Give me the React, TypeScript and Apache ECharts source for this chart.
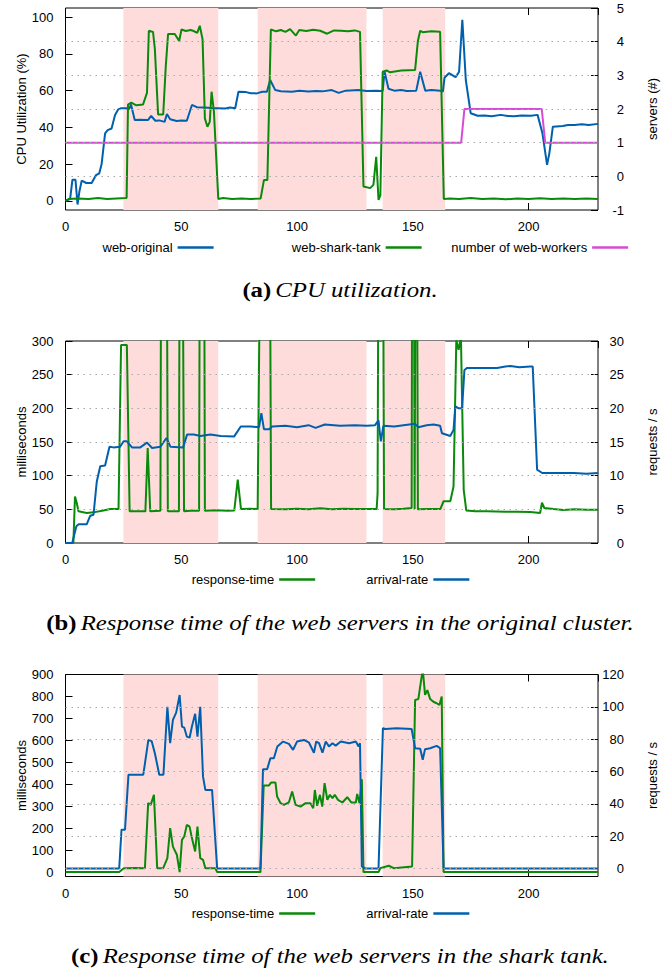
import React, { useEffect, useRef } from "react";
import * as echarts from "echarts";

// ---------- data ----------
const X_MAX = 230;
const xTickStep = 50;
const shadedRanges: number[][] = [[25, 66], [83, 130], [137, 164]];

const cpuLeftTicks = [0, 20, 40, 60, 80, 100];
const cpuGridValues = [0, 1, 2, 3, 4];
const rtOrigGridValues = [50, 100, 150, 200, 250];
const sharkLeftTicks = [0, 100, 200, 300, 400, 500, 600, 700, 800, 900];
const sharkRightTicks = [0, 20, 40, 60, 80, 100, 120];
const sharkGridValues = [0, 20, 40, 60, 80, 100];

// (a) CPU utilization
const cpuWebOriginal: number[][] = [
  [0, 0], [2, 1], [3, 11.5], [4.3, 11.5], [5.2, -2], [6, 5], [7, 11], [9, 9.7], [11.3, 9.7],
  [13.2, 14], [14.6, 15], [15.6, 20], [17.1, 36.7], [18.2, 38.5], [19.9, 39.4], [21.4, 46.7],
  [22.8, 49.8], [24, 50.4], [26.4, 50.4], [27.5, 50], [28.3, 52.5], [29.9, 44], [32, 44.2],
  [35.6, 44], [37, 46.3], [38.8, 43.6], [40.5, 43.8], [42.8, 43], [43.8, 47.3], [45.2, 44.4],
  [48, 43.5], [50, 43.8], [52.4, 43.6], [54.6, 52.2], [56.7, 51], [60, 50.8], [63, 50.5],
  [66, 50.4], [69, 50.3], [71, 50.8], [73.3, 50.4], [74.7, 59.4], [78, 59.2], [80, 58.6],
  [82.6, 58.5], [85, 59.4], [87, 59.4], [88.4, 65.8], [90.6, 60.3], [93, 59.7], [97.8, 59.4],
  [101, 60], [105, 59.5], [108, 59.8], [111, 59.6], [115, 60.3], [118, 58.8], [121, 60],
  [126.6, 60.3], [130, 59.8], [134, 59.9], [137, 59.8], [137.8, 70.5], [139.5, 61], [142, 60],
  [145, 60.3], [147.4, 59.8], [151.5, 60], [153.2, 70.3], [155.4, 60], [158, 60.3], [161.9, 60],
  [163, 59.5], [163.7, 67], [165.6, 69.5], [168.5, 67.3], [170, 70.3], [171.4, 98.6],
  [172.9, 65.8], [175, 47.7], [178, 46.3], [181, 46.5], [184, 46], [188, 46.8], [191, 46.2],
  [193.8, 46], [197, 46.5], [201, 46.3], [203.9, 46.8], [206, 36.8], [208, 19.6], [209, 26],
  [210.5, 40.4], [214.8, 40.8], [217, 41.3], [219.8, 41.3], [223, 41.7], [226, 41.3], [230, 41.9],
];
const cpuWebSharkTank: number[][] = [
  [0, 0], [1.5, 1], [5, 1.2], [10, 1], [14, 1.5], [18, 1], [22, 1.3], [26.4, 1.5], [27, 52.4],
  [28.4, 53.5], [30.6, 52], [33.5, 52.5], [35.2, 58.8], [36, 92.6], [37.8, 92], [38.6, 82.6],
  [40, 47], [42.2, 47], [43.3, 73], [44.3, 90.8], [47.2, 90.8], [49.1, 87], [50.1, 93.3],
  [52, 92.5], [54, 93], [55.1, 92.6], [56.9, 91.5], [58, 95.3], [59.2, 88], [60.2, 44.9],
  [61.3, 40.3], [62.3, 43], [63.1, 59.4], [64.1, 48.6], [66, 1], [68, 1.5], [72, 1], [76, 1.2],
  [80, 1], [84.3, 1.3], [85.7, 11.3], [87.2, 11.3], [88.7, 93.3], [91, 92.3], [93, 93], [95, 92],
  [97, 93.5], [99.5, 90], [101, 93], [104, 92.5], [107, 93.2], [110, 92.6], [113, 91],
  [116, 92.8], [119, 92.6], [122, 92.3], [125, 92.8], [127.2, 92], [128.7, 7.8], [131.6, 6.9],
  [133, 8.7], [134.2, 24], [135.2, 0.5], [136, 3], [137, 70.3], [138.7, 71], [140.2, 70],
  [145, 71], [151, 71.3], [152.2, 87], [153.2, 92.6], [154.3, 91.8], [158, 92.3], [161.8, 92],
  [163.4, 1], [166, 1.3], [170, 1], [175, 1.5], [180, 1], [185, 1.3], [190, 0.8], [195, 1.2],
  [200, 1], [205, 1.4], [210, 1], [215, 1.3], [220, 1], [225, 1.2], [230, 1],
];
const cpuWebWorkers: number[][] = [
  [0, 1], [170.9, 1], [172.3, 2], [205.7, 2], [207.2, 1], [230, 1],
];

// (b) original cluster
const origResponseTime: number[][] = [
  [0, 0], [3.4, 0], [4.1, 69], [4.9, 59], [5.6, 47], [9.2, 44.5], [12.1, 45.5], [16.4, 48.4],
  [19.3, 50.4], [22.9, 50.4], [24, 294], [26.5, 294], [27.7, 47], [30, 47], [34.5, 47],
  [35.5, 141], [36.6, 47], [41, 48], [41.4, 600], [43.6, 600], [44.2, 47], [49, 47],
  [49.4, 600], [50.4, 600], [51.2, 47], [54, 48], [57.7, 48], [58.1, 600], [59.8, 600],
  [60.2, 48], [65, 48.5], [70, 48], [72.9, 48.4], [74.4, 94], [75.8, 50.4], [80, 51], [83, 50.4],
  [84.5, 600], [88.1, 600], [88.8, 50.4], [95, 50], [100, 50.8], [105, 50], [110, 51.5],
  [115, 50], [120, 51], [125, 50.5], [127.7, 50.4], [134.4, 50.4], [134.8, 74], [135.3, 600],
  [137, 600], [137.6, 50.4], [142, 50], [146, 51], [149.5, 52], [149.8, 600], [150.4, 600],
  [150.8, 50.4], [151.3, 600], [151.7, 600], [152.2, 50], [156, 50.5], [161.9, 50.4],
  [163.3, 62], [166.2, 62], [167.6, 84], [168.8, 301], [169.8, 287], [170.8, 306], [172, 79],
  [173.1, 48.4], [177, 47], [182, 47], [190, 46.5], [195, 46.5], [200.8, 46], [205, 44.5],
  [205.8, 60], [206.8, 52], [210.8, 50.4], [215, 49], [220, 50], [225, 49.5], [230, 49.4],
];
const origArrivalRate: number[][] = [
  [0, 0], [2.9, 0], [4.7, 2.5], [5.7, 2.8], [9.2, 2.8], [10.7, 4.05], [12.1, 4.2], [13.5, 9.1],
  [15, 11.4], [17.1, 11.5], [19, 14.3], [20.7, 14.2], [23.6, 14.3], [25.1, 15.1], [26.5, 15.1],
  [28.7, 14.2], [32.3, 14.2], [35.2, 14.9], [37.4, 14.1], [41, 14.3], [43.6, 15.6], [45.3, 14.3],
  [50.8, 14.2], [52.5, 16.1], [55.4, 16.1], [58.3, 15.9], [62.6, 16.1], [67, 15.9], [72.8, 15.8],
  [75.7, 17.3], [80, 17.3], [83.6, 17.2], [84.6, 19.3], [85.7, 16.9], [87.9, 16.9], [89.3, 17.3],
  [95, 17.4], [100, 17.2], [105, 17.5], [108, 17.1], [112, 17.6], [118.6, 17.4], [125, 17.5],
  [130.1, 17.4], [133.7, 17.5], [135.2, 18.2], [136.2, 15.1], [137.3, 17.4], [142, 17.3],
  [146, 17.5], [151, 17.7], [152.4, 17.2], [156, 17.5], [159, 17.6], [161.8, 17.4],
  [162.6, 16.3], [166.2, 15.9], [167.6, 16.8], [168.4, 20.3], [169.8, 20], [171.3, 20],
  [172.3, 25.7], [173.5, 26], [180, 26], [186.4, 26], [190, 26.2], [192.2, 26.3], [196, 26.1],
  [200.8, 26.2], [201.8, 26.2], [203.7, 10.9], [205.9, 10.4], [212, 10.4], [219.6, 10.4],
  [225, 10.3], [230, 10.4],
];

// (c) shark tank
const sharkResponseTime: number[][] = [
  [0, 0], [23.2, 0], [25.2, 18], [30, 19], [34.3, 18], [35.7, 314], [36.8, 306], [38.2, 352],
  [39.6, 18], [42.2, 18], [44, 64], [45.2, 200], [46.4, 116], [48.1, 79], [49.3, 0], [50.3, 147],
  [51.3, 162], [52.4, 215], [53.6, 207], [54.6, 155], [56, 94], [57, 207], [58.2, 64],
  [59.4, 56], [60.4, 18], [64.7, 18], [65.5, 0], [84.2, 0], [85.6, 394], [87.8, 394],
  [88.8, 408], [90.7, 408], [91.4, 344], [92.9, 314], [94.3, 306], [96.5, 318], [97.9, 367],
  [99.4, 306], [101.5, 298], [103.7, 314], [105.8, 314], [107, 291], [107.7, 374], [108.7, 302],
  [109.9, 352], [110.9, 298], [111.9, 405], [113.1, 329], [114.2, 352], [115.3, 337],
  [116.3, 352], [117.7, 329], [119.6, 317], [121.7, 341], [123.5, 317], [125.4, 317],
  [126, 356], [127, 314], [128, 423], [128.7, 0], [135.2, 0], [136, 18], [139.6, 29],
  [141.8, 18], [149.7, 26], [151, 784], [152.4, 788], [154.3, 924], [155.3, 807], [156.3, 829],
  [157.5, 788], [158.9, 776], [160.3, 769], [161.5, 761], [162.5, 800], [163.3, 0], [230, 0],
];
const sharkArrivalRate: number[][] = [
  [0, 0], [23.2, 0], [24.2, 24], [25.7, 24], [27.2, 58], [33.6, 58], [35.8, 79.5], [37.2, 78.8],
  [38.6, 71.3], [40.5, 58], [42.3, 58], [44, 100], [45.2, 77.5], [46.4, 91.9], [47.8, 96.4],
  [49.3, 107.3], [50.3, 87.8], [51.3, 87.1], [52.4, 81.6], [53.6, 80.9], [54.6, 87.8],
  [56, 95.7], [57, 81.6], [58.2, 100], [59.4, 56.8], [60.4, 48.6], [63.3, 48.6], [64.7, 17.7],
  [65.5, 0], [84.2, 0], [85.3, 61.4], [87.1, 61.4], [88.5, 68.2], [90, 68.2], [91.5, 75.4],
  [94, 78.5], [96.5, 77.1], [98.3, 73.4], [100, 78.5], [103, 79.5], [105.2, 77.8], [107.3, 71.6],
  [108.3, 78.5], [109.5, 77.5], [111, 71.6], [112.4, 78.5], [113.8, 75.5], [115.3, 77.5],
  [116.7, 76], [118.9, 78.5], [122.5, 77.5], [125.4, 78.5], [126.6, 75.4], [127.2, 77.5],
  [128, 1.2], [129.4, 0], [135.2, 0], [137.1, 86.8], [138.1, 86.3], [143, 86.8], [149.5, 86.3],
  [151, 74.4], [153.2, 74], [154.3, 67.2], [155.3, 73.8], [157.5, 74.4], [160.3, 75.8],
  [161.8, 74.4], [163.3, 0], [230, 0],
];

// ---------- styling ----------
const FONT = "Liberation Sans, Arial, Helvetica, sans-serif";
const SERIF = "Liberation Serif, Times New Roman, Times, serif";
const BLUE = "#0060ad";
const GREEN = "#0a8a0a";
const MAGENTA = "#d64bd6";
const PINK = "#ffdcdc";
const GRIDLINE = "#a8a8a8";

const PLOT_LEFT = 65.5;
const PLOT_WIDTH = 532.5;
const gridTops = [8, 341, 674.5];
const PLOT_HEIGHT = 202;

function xAxes(gi: number) {
  const base: any = {
    type: "value",
    gridIndex: gi,
    min: 0,
    max: X_MAX,
    interval: xTickStep,
    axisLine: { show: false, onZero: false },
    axisTick: { show: true, inside: true, length: 7, lineStyle: { color: "#000", width: 1 } },
    splitLine: { show: false },
  };
  return [
    {
      ...base,
      position: "bottom",
      axisLabel: { show: true, color: "#000", fontSize: 13, fontFamily: FONT, margin: 10, showMaxLabel: false },
    },
    { ...base, position: "top", axisLabel: { show: false } },
  ];
}

function yAxis(gi: number, side: "left" | "right", cfg: any) {
  const tick: any = { show: true, inside: true, length: 7, lineStyle: { color: "#000", width: 1 } };
  const label: any = {
    show: true,
    color: "#000",
    fontSize: 13,
    fontFamily: FONT,
    margin: side === "left" ? 12 : 26,
    align: "right",
  };
  if (cfg.ticks) {
    tick.customValues = cfg.ticks;
    label.customValues = cfg.ticks;
  }
  const ax: any = {
    type: "value",
    gridIndex: gi,
    position: side,
    min: cfg.min,
    max: cfg.max,
    axisLine: { show: false, onZero: false },
    axisTick: tick,
    axisLabel: label,
    splitLine: { show: false },
    name: cfg.name,
    nameLocation: "middle",
    nameGap: side === "left" ? 38 : 48,
    nameMoveOverlap: false,
    nameTextStyle: { color: "#000", fontSize: 13, fontFamily: FONT },
  };
  if (cfg.interval) ax.interval = cfg.interval;
  return ax;
}

function shadeSeries(gi: number) {
  return {
    type: "line",
    xAxisIndex: gi * 2,
    yAxisIndex: gi * 2,
    data: [],
    silent: true,
    z: -2,
    markArea: {
      silent: true,
      itemStyle: { color: PINK },
      data: shadedRanges.map(([a, b]) => [{ xAxis: a }, { xAxis: b }]),
    },
  };
}

function gridLineSeries(gi: number, yIndex: number, values: number[]) {
  return {
    type: "line",
    xAxisIndex: gi * 2,
    yAxisIndex: yIndex,
    data: [],
    silent: true,
    z: -1,
    markLine: {
      silent: true,
      symbol: ["none", "none"],
      label: { show: false },
      lineStyle: { color: GRIDLINE, width: 1, type: [1.5, 4.5] },
      data: values.map((v) => ({ yAxis: v })),
    },
  };
}

function lineSeries(name: string, gi: number, yIndex: number, data: number[][], color: string) {
  return {
    type: "line",
    name,
    xAxisIndex: gi * 2,
    yAxisIndex: yIndex,
    data,
    color,
    symbol: "none",
    showSymbol: false,
    clip: true,
    lineStyle: { color, width: 2 },
    itemStyle: { color },
    emphasis: { disabled: true },
  };
}

function legend(name: string, left: number, top: number) {
  return {
    show: true,
    left,
    top,
    padding: 0,
    itemGap: 0,
    align: "right",
    icon: "rect",
    itemWidth: 36,
    itemHeight: 2.5,
    selectedMode: false,
    textStyle: { color: "#000", fontSize: 13, fontFamily: FONT },
    data: [name],
  };
}

function caption(letter: string, text: string, y: number) {
  return {
    type: "text",
    x: 340,
    y,
    scaleX: 1.18,
    silent: true,
    style: {
      text: `{b|(${letter})} {i|${text}}`,
      align: "center",
      verticalAlign: "middle",
      fill: "#000",
      rich: {
        b: { fontFamily: SERIF, fontWeight: "bold", fontSize: 21, fill: "#000" },
        i: { fontFamily: SERIF, fontStyle: "italic", fontSize: 21, fill: "#000" },
      },
    },
  };
}

export default function App() {
  const ref = useRef<HTMLDivElement>(null);

  useEffect(() => {
    if (!ref.current) return;
    const chart = echarts.init(ref.current, null, { renderer: "svg" });

    const grids = gridTops.map((top) => ({
      left: PLOT_LEFT,
      top,
      width: PLOT_WIDTH,
      height: PLOT_HEIGHT,
      show: true,
      borderColor: "#000",
      borderWidth: 1,
      backgroundColor: "transparent",
      containLabel: false,
    }));

    const option: any = {
      animation: false,
      backgroundColor: "#fff",
      textStyle: { fontFamily: FONT },
      grid: grids,
      xAxis: [...xAxes(0), ...xAxes(1), ...xAxes(2)],
      yAxis: [
        yAxis(0, "left", { min: -5, max: 105, ticks: cpuLeftTicks, name: "CPU Utilization (%)" }),
        yAxis(0, "right", { min: -1, max: 5, interval: 1, name: "servers (#)" }),
        yAxis(1, "left", { min: 0, max: 300, interval: 50, name: "milliseconds" }),
        yAxis(1, "right", { min: 0, max: 30, interval: 5, name: "requests / s" }),
        yAxis(2, "left", { min: -20, max: 900, ticks: sharkLeftTicks, name: "milliseconds" }),
        yAxis(2, "right", { min: -5, max: 120, ticks: sharkRightTicks, name: "requests / s" }),
      ],
      legend: [
        legend("web-original", 102.5, 241),
        legend("web-shark-tank", 291.8, 241),
        legend("number of web-workers", 451.3, 241),
        legend("response-time", 191.8, 573),
        legend("arrival-rate", 366.2, 573),
        legend("response-time", 191.8, 907),
        legend("arrival-rate", 366.2, 907),
      ],
      series: [
        shadeSeries(0),
        gridLineSeries(0, 1, cpuGridValues),
        lineSeries("web-original", 0, 0, cpuWebOriginal, BLUE),
        lineSeries("web-shark-tank", 0, 0, cpuWebSharkTank, GREEN),
        lineSeries("number of web-workers", 0, 1, cpuWebWorkers, MAGENTA),

        shadeSeries(1),
        gridLineSeries(1, 2, rtOrigGridValues),
        lineSeries("response-time", 1, 2, origResponseTime, GREEN),
        lineSeries("arrival-rate", 1, 3, origArrivalRate, BLUE),

        shadeSeries(2),
        gridLineSeries(2, 5, sharkGridValues),
        lineSeries("response-time", 2, 4, sharkResponseTime, GREEN),
        lineSeries("arrival-rate", 2, 5, sharkArrivalRate, BLUE),
      ],
      graphic: [
        caption("a", "CPU utilization.", 290),
        caption("b", "Response time of the web servers in the original cluster.", 623),
        caption("c", "Response time of the web servers in the shark tank.", 956),
      ],
    };

    chart.setOption(option);
    return () => chart.dispose();
  }, []);

  return (
    <div
      ref={ref}
      style={{ position: "absolute", left: 0, top: 0, width: 668, height: 969, background: "#fff" }}
    />
  );
}
